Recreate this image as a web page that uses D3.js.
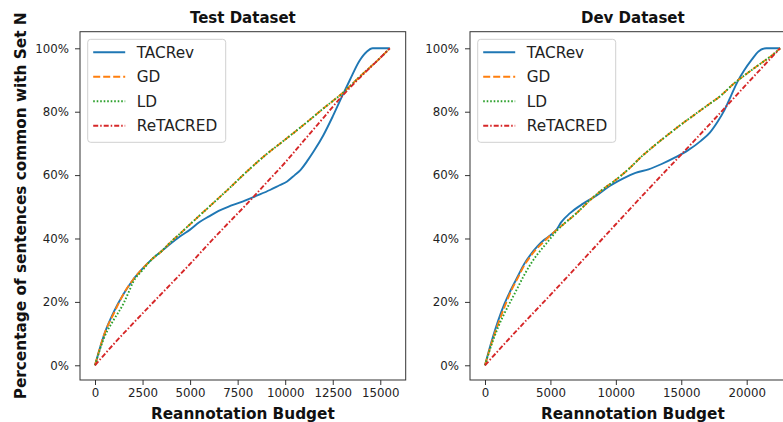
<!DOCTYPE html>
<html>
<head>
<meta charset="utf-8">
<script src="https://cdn.jsdelivr.net/npm/d3@7"></script>
<style>
  body { margin: 0; background: #fff; }
  svg { display: block; font-family: "DejaVu Sans", sans-serif; }
  .tick text { font-size: 11.8px; fill: #222; }
  .tick line { stroke: #333; }
</style>
</head>
<body>
<div id="chart"></div>
<script>
// Test dataset
const testTACRevBudget = [0, 500, 1000, 1500, 2000, 2500, 3000, 3500, 4000, 4500, 5000, 5500, 6000, 6500, 7000, 7600, 8500, 9200, 9700, 10100, 10500, 10800, 11200, 11500, 12000, 12500, 13000, 13400, 13900, 14300, 14600, 15500]
const testTACRevPct = [0, 0.10, 0.17, 0.225, 0.27, 0.305, 0.335, 0.36, 0.385, 0.408, 0.428, 0.452, 0.47, 0.487, 0.50, 0.513, 0.535, 0.553, 0.568, 0.58, 0.60, 0.616, 0.648, 0.675, 0.725, 0.785, 0.85, 0.90, 0.96, 0.99, 1.0, 1.0]
const testGDBudget = [0, 500, 1000, 1500, 2000, 2500, 3000, 3500, 4000, 4500, 5000, 6000, 7000, 8000, 9000, 10000, 11000, 12000, 13000, 14000, 15000, 15500]
const testGDPct = [0, 0.10, 0.165, 0.225, 0.27, 0.305, 0.335, 0.36, 0.39, 0.417, 0.445, 0.50, 0.555, 0.612, 0.665, 0.712, 0.76, 0.81, 0.858, 0.915, 0.97, 1.0]
const testLDBudget = [0, 500, 1000, 1500, 1800, 2000, 2500, 3000, 3500, 4000, 4500, 5000, 6000, 7000, 8000, 9000, 10000, 11000, 12000, 13000, 14000, 15000, 15500]
const testLDPct = [0, 0.09, 0.145, 0.195, 0.235, 0.262, 0.30, 0.335, 0.36, 0.39, 0.417, 0.445, 0.50, 0.555, 0.612, 0.665, 0.712, 0.76, 0.81, 0.858, 0.915, 0.97, 1.0]
const testReBudget = [0, 1000, 2000, 3000, 4000, 5000, 6000, 7000, 8000, 9000, 10000, 11000, 12000, 13000, 14000, 15000, 15500]
const testRePct = [0, 0.068, 0.132, 0.195, 0.257, 0.32, 0.385, 0.448, 0.51, 0.575, 0.64, 0.71, 0.78, 0.85, 0.912, 0.97, 1.0]

// Dev dataset
const devTACRevBudget = [0, 500, 1000, 1500, 2000, 2500, 3000, 3500, 4000, 4500, 5000, 5500, 5800, 6500, 7500, 8500, 9500, 10500, 11500, 12500, 13500, 14500, 15500, 16500, 17200, 17800, 18300, 18800, 19300, 19800, 20400, 20900, 21500, 22550]
const devTACRevPct = [0, 0.075, 0.14, 0.195, 0.24, 0.28, 0.32, 0.35, 0.375, 0.395, 0.41, 0.43, 0.45, 0.48, 0.51, 0.535, 0.565, 0.588, 0.607, 0.618, 0.635, 0.655, 0.678, 0.708, 0.735, 0.77, 0.805, 0.85, 0.895, 0.93, 0.965, 0.99, 1.0, 1.0]
const devGDBudget = [0, 500, 1000, 1500, 2000, 2500, 3000, 3500, 4000, 4500, 5000, 6000, 7000, 8000, 9000, 10000, 11000, 12000, 13000, 14000, 15000, 16000, 17000, 18000, 19000, 20000, 21000, 22000, 22550]
const devGDPct = [0, 0.07, 0.13, 0.185, 0.235, 0.275, 0.315, 0.345, 0.37, 0.39, 0.41, 0.445, 0.48, 0.52, 0.555, 0.585, 0.62, 0.66, 0.695, 0.728, 0.76, 0.79, 0.82, 0.85, 0.888, 0.92, 0.95, 0.98, 1.0]
const devLDBudget = [0, 500, 1000, 1500, 2000, 2500, 3000, 3500, 4000, 4500, 5000, 5500, 6000, 7000, 8000, 9000, 10000, 11000, 12000, 13000, 14000, 15000, 16000, 17000, 18000, 19000, 20000, 21000, 22000, 22550]
const devLDPct = [0, 0.065, 0.12, 0.165, 0.205, 0.245, 0.285, 0.32, 0.35, 0.375, 0.40, 0.425, 0.445, 0.48, 0.52, 0.555, 0.585, 0.62, 0.66, 0.695, 0.728, 0.76, 0.79, 0.82, 0.85, 0.888, 0.92, 0.95, 0.98, 1.0]
const devReBudget = [0, 2500, 5000, 7500, 10000, 12500, 15000, 17500, 20000, 22550]
const devRePct = [0, 0.113, 0.222, 0.333, 0.445, 0.556, 0.665, 0.775, 0.887, 1.0]

const seriesNames = ["TACRev", "GD", "LD", "ReTACRED"]
const colors = ["#1f77b4", "#ff7f0e", "#2ca02c", "#d62728"]
const dashes = [null, "7,3", "1.6,1.9", "5,2,1.5,2"]

const testTicks = [0, 2500, 5000, 7500, 10000, 12500, 15000]
const devTicks = [0, 5000, 10000, 15000, 20000]
const yTicks = [0, 0.2, 0.4, 0.6, 0.8, 1.0]

const svgWidth = 783, svgHeight = 422

const svg = d3.select("#chart")
    .append("svg")
    .attr("width", svgWidth)
    .attr("height", svgHeight)

const zip = (xs, ys) => xs.map((x, i) => [x, ys[i]])

const panels = [
    {
        title: "Test Dataset", left: 80, xDomain: [-789, 16336], ticks: testTicks,
        series: [zip(testTACRevBudget, testTACRevPct), zip(testGDBudget, testGDPct), zip(testLDBudget, testLDPct), zip(testReBudget, testRePct)]
    },
    {
        title: "Dev Dataset", left: 470, xDomain: [-1146, 23745], ticks: devTicks,
        series: [zip(devTACRevBudget, devTACRevPct), zip(devGDBudget, devGDPct), zip(devLDBudget, devLDPct), zip(devReBudget, devRePct)]
    }
]

const plotTop = 31.7, plotBottom = 380, panelW = 325.7

panels.forEach(p => {
    const g = svg.append("g").attr("transform", `translate(${p.left}, ${plotTop})`)
    const h = plotBottom - plotTop

    const x = d3.scaleLinear().domain(p.xDomain).range([0, panelW])
    const y = d3.scaleLinear().domain([-0.0464, 1.0524]).range([h, 0])

    // axes
    const xAxis = g.append("g")
        .attr("transform", `translate(0, ${h})`)
        .call(d3.axisBottom(x).tickValues(p.ticks).tickFormat(d3.format("d")).tickSize(5).tickPadding(4))
    xAxis.select(".domain").remove()

    const yAxis = g.append("g")
        .call(d3.axisLeft(y).tickValues(yTicks).tickFormat(d3.format(".0%")).tickSize(5).tickPadding(6))
    yAxis.select(".domain").remove()
    g.selectAll(".tick text").attr("font-family", "DejaVu Sans")

    // lines
    const line = d3.line()
        .x(d => x(d[0]))
        .y(d => y(d[1]))
        .curve(d3.curveMonotoneX)

    p.series.forEach((s, i) => {
        g.append("path")
            .datum(s)
            .attr("d", line)
            .attr("fill", "none")
            .attr("stroke", colors[i])
            .attr("stroke-width", 1.9)
            .attr("stroke-dasharray", dashes[i])
    })

    // frame
    g.append("rect")
        .attr("width", panelW)
        .attr("height", h)
        .attr("fill", "none")
        .attr("stroke", "#333")
        .attr("stroke-width", 1)

    // legend
    const lg = g.append("g").attr("transform", "translate(7.7, 7.6)")
    lg.append("rect")
        .attr("width", 138)
        .attr("height", 103)
        .attr("rx", 3)
        .attr("fill", "#fff")
        .attr("fill-opacity", 0.8)
        .attr("stroke", "#d0d0d0")
    seriesNames.forEach((name, i) => {
        const cy = 13 + i * 24.5
        lg.append("line")
            .attr("x1", 5.5).attr("x2", 37.5)
            .attr("y1", cy).attr("y2", cy)
            .attr("stroke", colors[i])
            .attr("stroke-width", 1.9)
            .attr("stroke-dasharray", dashes[i])
        lg.append("text")
            .attr("x", 49)
            .attr("y", cy)
            .attr("dy", "0.36em")
            .attr("font-size", 15.3)
            .attr("fill", "#222")
            .text(name)
    })

    // title
    svg.append("text")
        .attr("x", p.left + panelW / 2)
        .attr("y", 23)
        .attr("text-anchor", "middle")
        .attr("font-size", 15)
        .attr("font-weight", "bold")
        .attr("fill", "#111")
        .text(p.title)

    // x label
    svg.append("text")
        .attr("x", p.left + panelW / 2)
        .attr("y", 419)
        .attr("text-anchor", "middle")
        .attr("font-size", 15.3)
        .attr("font-weight", "bold")
        .attr("fill", "#111")
        .text("Reannotation Budget")
})

// y label
svg.append("text")
    .attr("transform", `translate(25.5, ${(plotTop + plotBottom) / 2}) rotate(-90)`)
    .attr("text-anchor", "middle")
    .attr("font-size", 15.3)
    .attr("font-weight", "bold")
    .attr("fill", "#111")
    .text("Percentage of sentences common with Set N")
</script>
</body>
</html>
